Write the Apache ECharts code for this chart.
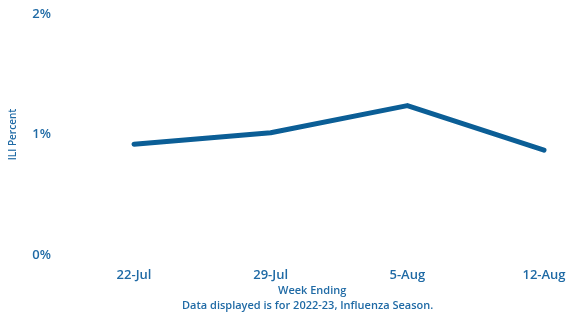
<!DOCTYPE html>
<html><head><meta charset="utf-8">
<script src="https://cdn.jsdelivr.net/npm/echarts@6/dist/echarts.min.js"></script>
<style>html,body{margin:0;padding:0;background:#fff}#c{width:569px;height:314px}</style>
</head><body><div id="c"></div>
<script>
const categories = ['22-Jul', '29-Jul', '5-Aug', '12-Aug'];
const iliValues = [0.92, 1.015, 1.24, 0.87];
const yTicks = [0, 1, 2];
const chart = echarts.init(document.getElementById('c'));
chart.setOption({
  animation: false,
  textStyle: {fontFamily: 'Open Sans'},
  grid: {left: 133, right: 25, top: 14, bottom: 59},
  xAxis: {
    type: 'category', data: categories, boundaryGap: false,
    axisLine: {show: false}, axisTick: {show: false},
    axisLabel: {color: '#1f6aa5', fontSize: 13, fontWeight: 600, margin: 14, fontFamily: 'Open Sans'}
  },
  yAxis: {
    type: 'value', min: yTicks[0], max: yTicks[yTicks.length - 1], interval: 1,
    splitLine: {show: false}, axisLine: {show: false}, axisTick: {show: false},
    axisLabel: {color: '#1f6aa5', fontSize: 13, fontWeight: 600, margin: 83, formatter: v => v + '%', fontFamily: 'Open Sans'},
    name: 'ILI Percent', nameLocation: 'middle', nameGap: 116, nameRotate: 90,
    nameTextStyle: {color: '#1f6aa5', fontSize: 10, fontWeight: 600, fontFamily: 'Open Sans'}
  },
  graphic: [
    {type: 'text', left: 278, top: 285, style: {text: 'Week Ending', fill: '#1f6aa5', font: '600 11px "Open Sans"'}},
    {type: 'text', left: 182, top: 300, style: {text: 'Data displayed is for 2022-23, Influenza Season.', fill: '#1f6aa5', font: '600 11px "Open Sans"'}}
  ],
  series: [{
    type: 'line', data: iliValues, symbol: 'none',
    lineStyle: {color: '#0b5e96', width: 5, cap: 'round', join: 'round'}
  }]
});
</script></body></html>
